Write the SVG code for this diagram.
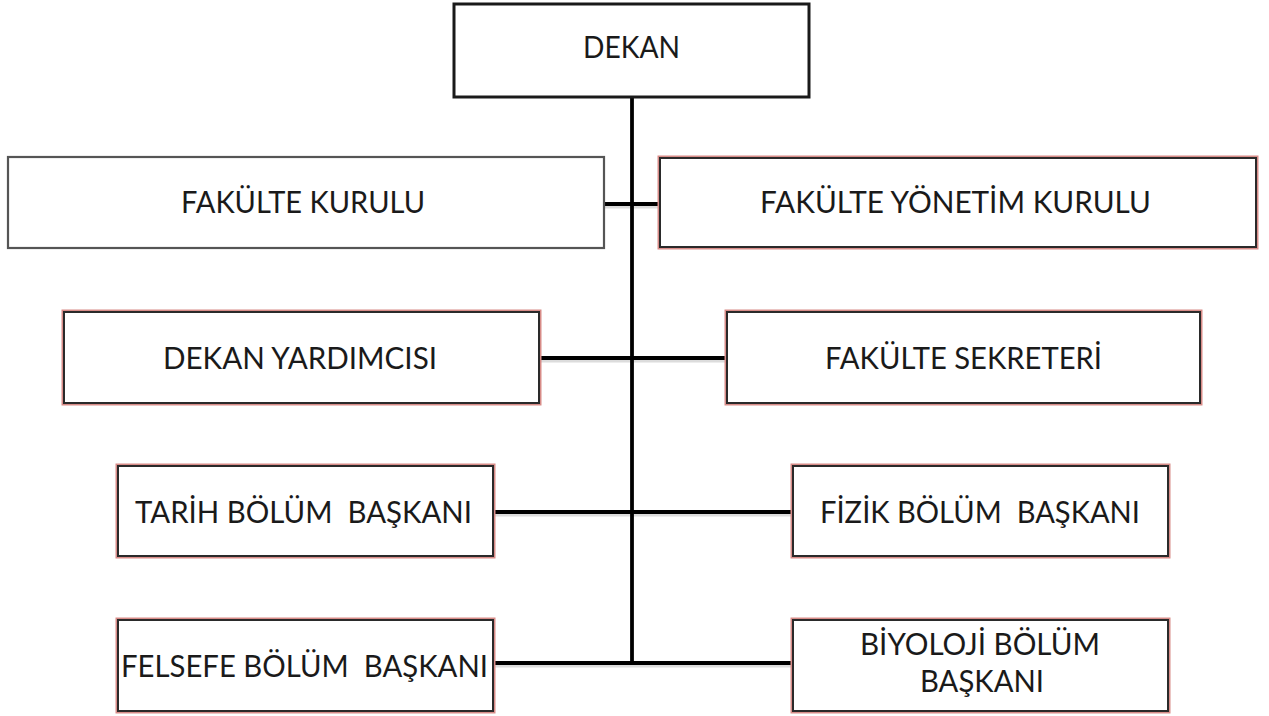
<svg xmlns="http://www.w3.org/2000/svg" width="1269" height="716" viewBox="0 0 1269 716">
<style>
.bg{fill:#ffffff}
.halo{fill:#ffffff;stroke:#d88c88;stroke-width:3}
.box{fill:none;stroke:#2a2a2a;stroke-width:2}
.plain{fill:#ffffff;stroke:#555555;stroke-width:2.2}
.lbl{font-family:Lato,"Open Sans","Liberation Sans",sans-serif;font-size:30px;fill:#1a1a1a;text-anchor:middle;white-space:pre}
.conn line{stroke:#000000;stroke-width:3.8;stroke-linecap:butt}
.shadow line{stroke:#bbbbbb;stroke-width:3;opacity:0.5}
</style>
<rect class="bg" x="0" y="0" width="1269" height="716"/>
<g id="connectors">
<g class="shadow">
<line x1="605" y1="207" x2="659" y2="207"/>
<line x1="540" y1="361" x2="726" y2="361"/>
<line x1="494" y1="515" x2="792" y2="515"/>
<line x1="494" y1="666" x2="792" y2="666"/>
</g>
<g class="conn">
<line x1="632" y1="97" x2="632" y2="664"/>
<line x1="605" y1="204" x2="659" y2="204"/>
<line x1="540" y1="358" x2="726" y2="358"/>
<line x1="494" y1="512" x2="792" y2="512"/>
<line x1="494" y1="663" x2="792" y2="663"/>
</g>
</g>
<g id="dekan">
<rect x="454" y="4" width="355" height="93" fill="#ffffff" stroke="#1a1a1a" stroke-width="3"/>
<text class="lbl" x="631.5" y="58" textLength="97" lengthAdjust="spacingAndGlyphs">DEKAN</text>
</g>
<g id="fakulte-kurulu">
<rect class="plain" x="8" y="157" width="596" height="91"/>
<text class="lbl" x="303" y="213" textLength="244" lengthAdjust="spacingAndGlyphs">FAKÜLTE KURULU</text>
</g>
<g id="fakulte-yonetim-kurulu">
<rect class="halo" x="659" y="157" width="598" height="91"/>
<rect class="box" x="660" y="158" width="596" height="89"/>
<text class="lbl" x="955.5" y="213" textLength="391" lengthAdjust="spacingAndGlyphs">FAKÜLTE YÖNETİM KURULU</text>
</g>
<g id="dekan-yardimcisi">
<rect class="halo" x="63" y="311" width="477" height="93"/>
<rect class="box" x="64" y="312" width="475" height="91"/>
<text class="lbl" x="300" y="369" textLength="274" lengthAdjust="spacingAndGlyphs">DEKAN YARDIMCISI</text>
</g>
<g id="fakulte-sekreteri">
<rect class="halo" x="726" y="311" width="475" height="93"/>
<rect class="box" x="727" y="312" width="473" height="91"/>
<text class="lbl" x="963.5" y="369" textLength="277" lengthAdjust="spacingAndGlyphs">FAKÜLTE SEKRETERİ</text>
</g>
<g id="tarih">
<rect class="halo" x="117" y="465" width="377" height="92"/>
<rect class="box" x="118" y="466" width="375" height="90"/>
<text class="lbl" x="303.5" y="523" textLength="337" lengthAdjust="spacingAndGlyphs">TARİH BÖLÜM  BAŞKANI</text>
</g>
<g id="fizik">
<rect class="halo" x="792" y="465" width="377" height="92"/>
<rect class="box" x="793" y="466" width="375" height="90"/>
<text class="lbl" x="980" y="523" textLength="320" lengthAdjust="spacingAndGlyphs">FİZİK BÖLÜM  BAŞKANI</text>
</g>
<g id="felsefe">
<rect class="halo" x="117" y="619" width="377" height="93"/>
<rect class="box" x="118" y="620" width="375" height="91"/>
<text class="lbl" x="304.5" y="677" textLength="367" lengthAdjust="spacingAndGlyphs">FELSEFE BÖLÜM  BAŞKANI</text>
</g>
<g id="biyoloji">
<rect class="halo" x="792" y="619" width="377" height="93"/>
<rect class="box" x="793" y="620" width="375" height="91"/>
<text class="lbl" x="980" y="655" textLength="240" lengthAdjust="spacingAndGlyphs">BİYOLOJİ BÖLÜM</text>
<text class="lbl" x="982" y="692" textLength="124" lengthAdjust="spacingAndGlyphs">BAŞKANI</text>
</g>
</svg>
